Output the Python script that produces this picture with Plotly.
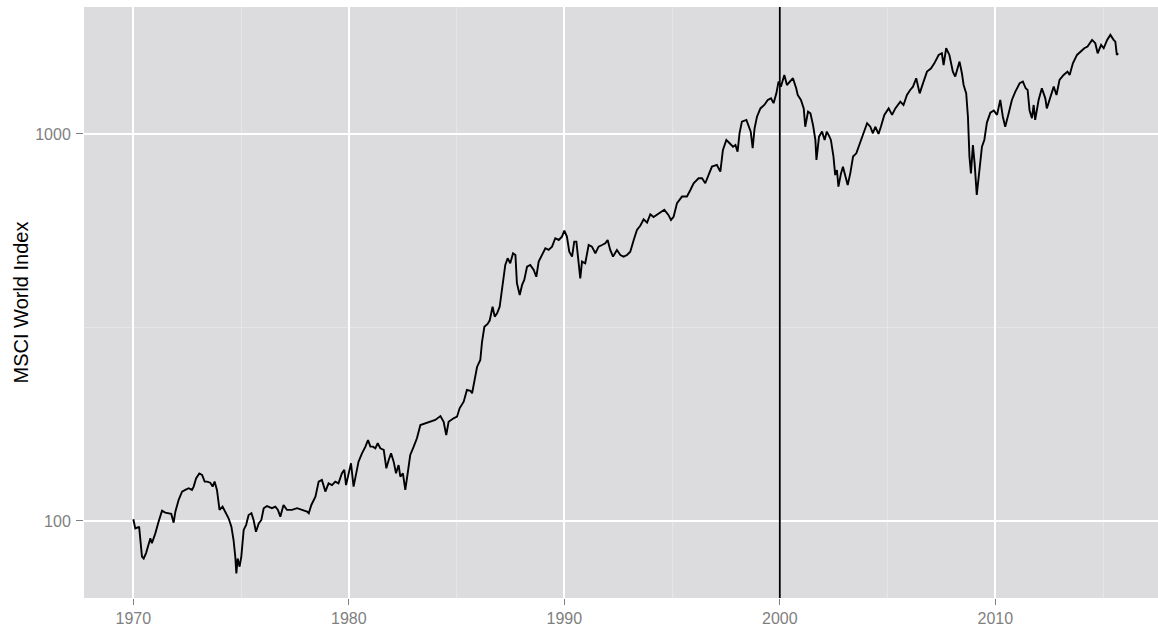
import plotly.graph_objects as go

# MSCI World Index level (log scale), readings by fractional year
years = [
    1970.00, 1970.09, 1970.22, 1970.27, 1970.40, 1970.48, 1970.59, 1970.68, 1970.79, 1970.86,
    1971.02, 1971.17, 1971.33, 1971.48, 1971.64, 1971.76, 1971.87, 1971.95, 1972.10, 1972.26,
    1972.41, 1972.57, 1972.72, 1972.80, 1972.91, 1973.06, 1973.19, 1973.31, 1973.42, 1973.57,
    1973.68, 1973.77, 1973.88, 1973.96, 1974.00, 1974.14, 1974.27, 1974.42, 1974.55, 1974.65,
    1974.73, 1974.78, 1974.84, 1974.93, 1975.01, 1975.12, 1975.23, 1975.35, 1975.48, 1975.58,
    1975.69, 1975.82, 1975.94, 1976.05, 1976.20, 1976.43, 1976.59, 1976.71, 1976.82, 1976.97,
    1977.13, 1977.36, 1977.60, 1977.83, 1978.06, 1978.14, 1978.26, 1978.45, 1978.60, 1978.75,
    1978.91, 1979.06, 1979.22, 1979.37, 1979.52, 1979.68, 1979.79, 1979.87, 1979.99, 1980.10,
    1980.22, 1980.35, 1980.45, 1980.61, 1980.77, 1980.89, 1981.00, 1981.12, 1981.23, 1981.34,
    1981.46, 1981.62, 1981.74, 1981.85, 1981.96, 1982.08, 1982.19, 1982.31, 1982.39, 1982.51,
    1982.62, 1982.73, 1982.85, 1983.01, 1983.16, 1983.32, 1983.55, 1983.78, 1984.01, 1984.25,
    1984.40, 1984.52, 1984.63, 1984.86, 1985.02, 1985.14, 1985.33, 1985.48, 1985.64, 1985.72,
    1985.82, 1985.95, 1986.10, 1986.18, 1986.29, 1986.44, 1986.54, 1986.67, 1986.77, 1986.88,
    1987.00, 1987.11, 1987.26, 1987.37, 1987.49, 1987.62, 1987.73, 1987.80, 1987.93, 1988.04,
    1988.14, 1988.27, 1988.42, 1988.58, 1988.70, 1988.81, 1988.96, 1989.12, 1989.27, 1989.43,
    1989.58, 1989.74, 1989.89, 1990.00, 1990.12, 1990.23, 1990.36, 1990.46, 1990.56, 1990.66,
    1990.74, 1990.82, 1990.97, 1991.13, 1991.28, 1991.44, 1991.59, 1991.75, 1991.90, 1992.01,
    1992.13, 1992.26, 1992.44, 1992.60, 1992.75, 1992.91, 1993.06, 1993.22, 1993.37, 1993.53,
    1993.68, 1993.84, 1993.99, 1994.14, 1994.30, 1994.45, 1994.64, 1994.83, 1994.95, 1995.07,
    1995.23, 1995.46, 1995.69, 1995.85, 1996.00, 1996.23, 1996.39, 1996.54, 1996.70, 1996.85,
    1997.08, 1997.24, 1997.36, 1997.52, 1997.67, 1997.83, 1997.94, 1998.04, 1998.13, 1998.24,
    1998.45, 1998.55, 1998.65, 1998.74, 1998.83, 1998.94, 1999.10, 1999.28, 1999.44, 1999.59,
    1999.71, 1999.84, 1999.94, 2000.05, 2000.21, 2000.33, 2000.49, 2000.61, 2000.76, 2000.83,
    2000.98, 2001.11, 2001.18, 2001.31, 2001.42, 2001.54, 2001.65, 2001.70, 2001.82, 2001.96,
    2002.08, 2002.18, 2002.28, 2002.37, 2002.49, 2002.57, 2002.65, 2002.72, 2002.84, 2002.93,
    2003.05, 2003.15, 2003.27, 2003.40, 2003.55, 2003.74, 2003.89, 2004.05, 2004.20, 2004.32,
    2004.43, 2004.58, 2004.69, 2004.85, 2005.05, 2005.21, 2005.36, 2005.59, 2005.74, 2005.90,
    2006.05, 2006.18, 2006.33, 2006.49, 2006.67, 2006.83, 2007.01, 2007.17, 2007.37, 2007.52,
    2007.60, 2007.72, 2007.87, 2008.03, 2008.14, 2008.24, 2008.34, 2008.45, 2008.53, 2008.65,
    2008.73, 2008.80, 2008.87, 2008.96, 2009.04, 2009.14, 2009.27, 2009.38, 2009.49, 2009.61,
    2009.77, 2009.93, 2010.08, 2010.23, 2010.35, 2010.46, 2010.62, 2010.77, 2010.93, 2011.13,
    2011.28, 2011.41, 2011.50, 2011.59, 2011.70, 2011.78, 2011.85, 2012.01, 2012.16, 2012.32,
    2012.39, 2012.55, 2012.71, 2012.84, 2012.98, 2013.17, 2013.35, 2013.45, 2013.60, 2013.79,
    2013.94, 2014.13, 2014.28, 2014.49, 2014.64, 2014.75, 2014.91, 2015.03, 2015.19, 2015.34,
    2015.49, 2015.57, 2015.64, 2015.70,
]

index_level = [
    101.0, 95.7, 96.3, 96.3, 80.9, 80.0, 82.6, 85.9, 90.2, 87.6,
    92.9, 99.6, 106.3, 105.1, 104.7, 104.3, 99.0, 105.7, 113.3, 119.1,
    120.3, 121.5, 120.3, 122.7, 128.8, 132.7, 131.5, 126.4, 126.4, 125.6,
    122.7, 126.4, 120.3, 108.9, 106.8, 108.9, 105.7, 101.6, 96.7, 89.3,
    80.9, 73.2, 80.0, 76.2, 80.9, 94.8, 97.6, 103.6, 104.7, 100.6,
    93.8, 98.6, 100.6, 107.9, 109.3, 107.9, 108.9, 106.8, 102.6, 110.0,
    106.8, 106.8, 107.9, 106.8, 105.7, 104.7, 110.0, 115.6, 126.4, 127.7,
    119.1, 125.1, 123.8, 126.4, 125.1, 132.8, 135.5, 123.8, 132.8, 141.0,
    122.7, 132.8, 142.3, 149.6, 155.6, 161.9, 155.6, 155.6, 154.1, 158.8,
    154.1, 152.6, 136.8, 143.7, 149.6, 142.3, 132.8, 139.5, 130.2, 132.8,
    120.3, 132.8, 148.1, 155.6, 163.6, 177.0, 178.8, 180.5, 182.4, 186.7,
    180.5, 166.8, 180.5, 184.2, 186.0, 195.5, 203.3, 218.0, 217.0, 213.8,
    231.3, 250.0, 260.6, 290.0, 317.6, 323.0, 330.0, 357.8, 337.3, 344.0,
    357.8, 399.4, 458.6, 477.3, 463.4, 491.7, 486.6, 411.5, 383.5, 407.3,
    419.5, 453.9, 458.6, 445.3, 427.6, 468.0, 486.6, 506.6, 501.6, 511.4,
    537.7, 532.2, 542.9, 562.6, 542.9, 496.4, 482.0, 526.9, 526.9, 453.9,
    423.6, 468.0, 463.4, 516.5, 511.4, 491.7, 511.4, 516.5, 521.8, 532.2,
    501.6, 482.0, 501.6, 486.6, 482.0, 486.6, 496.4, 532.2, 564.6, 580.0,
    602.0, 590.0, 620.0, 610.0, 618.0, 624.0, 636.7, 617.8, 599.6, 611.0,
    662.8, 689.0, 689.0, 716.6, 745.7, 768.3, 768.3, 745.7, 783.4, 823.3,
    831.5, 799.0, 909.4, 965.0, 946.0, 927.0, 936.0, 900.0, 1004.0, 1076.0,
    1087.0, 1044.0, 1014.0, 918.6, 1034.5, 1108.0, 1164.0, 1188.0, 1224.0, 1236.0,
    1201.0, 1273.0, 1365.0, 1325.0, 1420.0, 1338.0, 1365.0, 1393.0, 1312.0, 1261.0,
    1224.0, 1164.0, 1044.0, 1142.0, 1131.0, 1055.0, 965.0, 857.0, 984.0, 1014.0,
    965.0, 1014.0, 990.0, 965.0, 874.0, 783.0, 807.0, 731.0, 791.0, 823.0,
    775.7, 738.0, 791.0, 874.0, 891.0, 955.0, 1004.0, 1066.0, 1044.0, 1004.0,
    1044.0, 1000.0, 1044.0, 1120.0, 1164.0, 1120.0, 1164.0, 1212.0, 1188.0, 1261.0,
    1299.0, 1325.0, 1393.0, 1273.0, 1365.0, 1449.0, 1476.0, 1522.0, 1600.0, 1616.0,
    1507.0, 1665.0, 1600.0, 1449.0, 1407.0, 1464.0, 1538.0, 1435.0, 1338.0, 1273.0,
    1108.0, 874.0, 791.0, 936.0, 839.0, 696.0, 807.0, 927.0, 965.0, 1070.0,
    1135.0, 1150.0, 1120.0, 1224.0, 1108.0, 1044.0, 1131.0, 1224.0, 1286.0, 1352.0,
    1365.0, 1312.0, 1299.0, 1150.0, 1098.0, 1188.0, 1087.0, 1224.0, 1312.0, 1236.0,
    1164.0, 1249.0, 1325.0, 1261.0, 1379.0, 1420.0, 1449.0, 1420.0, 1522.0, 1600.0,
    1632.0, 1665.0, 1682.0, 1750.0, 1716.0, 1616.0, 1698.0, 1665.0, 1750.0, 1803.0,
    1750.0, 1732.0, 1600.0, 1616.0,
]

x_tick_years = [1970, 1980, 1990, 2000, 2010]
x_tick_labels = ["1970", "1980", "1990", "2000", "2010"]
x_minor_years = [1975, 1985, 1995, 2005, 2015]
y_tick_values = [100, 1000]
y_tick_labels = ["100", "1000"]
y_minor_values = [316.2278]
marker_year = 2000

PANEL = "#DCDCDE"
MINOR = "#E6E6E8"
TICK_GREY = "#7F7F7F"
FONT = "Liberation Sans, Arial, sans-serif"

fig = go.Figure()
fig.add_trace(go.Scatter(
    x=years, y=index_level, mode="lines",
    line=dict(color="black", width=1.9),
    showlegend=False, hoverinfo="x+y",
))

fig.add_vline(x=marker_year, line=dict(color="black", width=1.8), layer="above")

fig.update_layout(
    width=1158, height=630,
    margin=dict(l=84, r=0, t=7, b=32),
    paper_bgcolor="white",
    plot_bgcolor=PANEL,
    font=dict(family=FONT),
    xaxis=dict(
        range=[1967.71, 2017.55],
        tickmode="array", tickvals=x_tick_years, ticktext=x_tick_labels,
        showgrid=True, gridcolor="white", gridwidth=1.6,
        zeroline=False, showline=False,
        ticks="outside", ticklen=6, tickwidth=1, tickcolor=TICK_GREY,
        tickfont=dict(size=16, color=TICK_GREY, family=FONT),
        minor=dict(tickmode="array", tickvals=x_minor_years, showgrid=True,
                   gridcolor=MINOR, gridwidth=1, ticks=""),
    ),
    yaxis=dict(
        type="log",
        range=[1.801, 3.328],
        tickmode="array", tickvals=y_tick_values, ticktext=y_tick_labels,
        showgrid=True, gridcolor="white", gridwidth=1.6,
        zeroline=False, showline=False,
        ticks="outside", ticklen=7, tickwidth=1, tickcolor=TICK_GREY,
        ticklabelstandoff=2,
        tickfont=dict(size=16, color=TICK_GREY, family=FONT),
        minor=dict(tickmode="array", tickvals=y_minor_values, showgrid=True,
                   gridcolor=MINOR, gridwidth=1, ticks=""),
        title=dict(text="MSCI World Index", font=dict(size=20, color="black", family=FONT),
                   standoff=1),
    ),
)

fig.write_html("out.html")
